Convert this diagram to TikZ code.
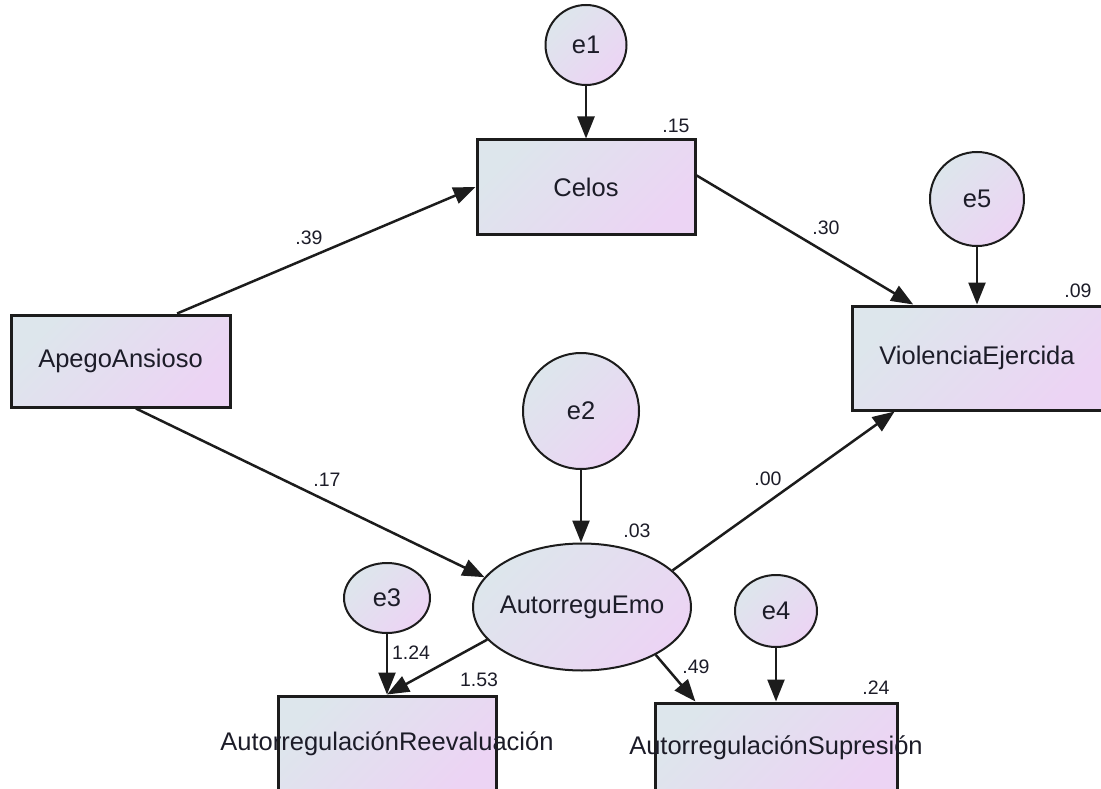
\documentclass[tikz,border=0pt]{standalone}
\usepackage{fontspec}
\setmainfont{Liberation Sans}
\usetikzlibrary{shapes.geometric,arrows.meta}
\definecolor{shadeA}{RGB}{221,230,236}
\definecolor{shadeB}{RGB}{236,212,244}
\definecolor{ink}{RGB}{28,28,40}
\definecolor{edge}{RGB}{28,28,28}
\tikzset{
  x=1pt, y=-1pt,
  fillgrad/.style={top color=shadeA, bottom color=shadeB, shading angle=45},
  obs/.style={rectangle, draw=edge, line width=3pt, fillgrad, inner sep=0pt,
    font=\fontsize{25.5}{30}\selectfont, text=ink},
  lat/.style={ellipse, draw=edge, line width=2pt, fillgrad, inner sep=0pt,
    font=\fontsize{25.5}{30}\selectfont, text=ink},
  wide/.style={font=\fontsize{25.5}{30}\selectfont, text=ink, inner sep=0pt},
  pth/.style={draw=edge, line width=2.5pt, -{Triangle[length=22pt,width=17pt]}},
  est/.style={font=\fontsize{19.5}{22}\selectfont, text=ink, inner sep=0pt},
}
\begin{document}
\begin{tikzpicture}
\useasboundingbox (0,0) rectangle (1101,789);

% observed variables
\node[obs, minimum width=218pt, minimum height=94pt] (celos) at (586,187) {Celos};
\node[obs, minimum width=250pt, minimum height=104pt] (viol) at (977,358) {ViolenciaEjercida};
\node[obs, minimum width=219pt, minimum height=92pt] (apego) at (120.5,361) {ApegoAnsioso};
\node[obs, minimum width=218pt, minimum height=96pt,
      label={[wide]center:AutorregulaciónReevaluación}] (reeval) at (387,744) {};
\node[obs, minimum width=242pt, minimum height=90pt,
      label={[wide]center:AutorregulaciónSupresión}] (supr) at (776,748) {};

% latent variable and errors
\node[lat, minimum width=218pt, minimum height=127pt,
      label={[wide]center:AutorreguEmo}] (autor) at (582,607) {};
\node[lat, minimum width=81pt, minimum height=80pt] (e1) at (586,45) {e1};
\node[lat, minimum width=94pt, minimum height=94pt] (e5) at (977,199) {e5};
\node[lat, minimum width=116pt, minimum height=116pt] (e2) at (581,411) {e2};
\node[lat, minimum width=86pt, minimum height=70pt] (e3) at (387,598) {e3};
\node[lat, minimum width=82pt, minimum height=72pt] (e4) at (776,611) {e4};

% paths
\draw[pth] (e1.south) -- (celos.north);
\draw[pth] (apego.40) -- (celos.west);
\draw[pth] (celos.6) -- (viol.140);
\draw[pth] (e5.south) -- (viol.north);
\draw[pth] (apego.-72) -- (autor.163);
\draw[pth] (e2.south) -- (e2.south |- autor.north);
\draw[pth] (autor.22) -- (viol.-147.6);
\draw[pth] (e3.south) -- (reeval.north);
\draw[pth] (autor.199) -- (reeval.north);
\draw[pth] (autor.-33) -- (supr.150.5);
\draw[pth] (e4.south) -- (supr.north);

% estimates
\node[est] (r15) at (676,126) {.15};
\node[est] (w39) at (309,238) {.39};
\node[est] (w30) at (826,228) {.30};
\node[est] (r09) at (1078,291) {.09};
\node[est] (w17) at (327,480) {.17};
\node[est] (w00) at (768,479) {.00};
\node[est] (r03) at (637,531) {.03};
\node[est] (w124) at (411,653) {1.24};
\node[est] (w153) at (479,680) {1.53};
\node[est] (w49) at (696,667) {.49};
\node[est] (r24) at (876,688) {.24};
\end{tikzpicture}
\end{document}
